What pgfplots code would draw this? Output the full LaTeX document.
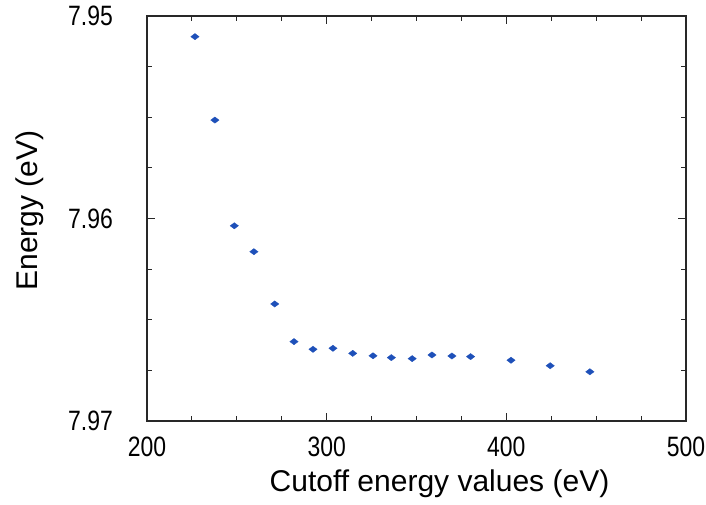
\documentclass[border=0pt]{standalone}
\usepackage{fontspec}
\setmainfont{Liberation Sans}
\newfontfamily\ticknarrow[FakeStretch=0.82]{Liberation Sans}
\usepackage{pgfplots}
\pgfplotsset{compat=1.18}
\definecolor{markblue}{RGB}{30,80,185}
\definecolor{axgray}{RGB}{40,40,40}
\begin{document}
\begin{tikzpicture}
\useasboundingbox (-147pt,-84pt) rectangle (559pt,421pt);
\begin{axis}[
  at={(0,0)}, anchor=south west,
  scale only axis, width=539pt, height=405pt,
  xmin=200, xmax=500, ymin=7.95, ymax=7.97,
  y dir=reverse,
  xtick={200,300,400,500}, xticklabels={200,300,400,500},
  ytick={7.95,7.96,7.97}, yticklabels={7.95,7.96,7.97},
  minor x tick num=3, minor y tick num=3,
  tick align=inside,
  major tick length=8pt, minor tick length=5pt,
  axis line style={line width=1.3pt, axgray},
  every tick/.style={line width=1pt, axgray},
  every minor tick/.style={line width=1pt, axgray},
  ticklabel style={font=\ticknarrow\fontsize{28}{28}\selectfont, inner sep=0pt},
  xticklabel style={anchor=north, yshift=-16pt},
  yticklabel style={anchor=east, xshift=-34pt},
  xlabel={Cutoff energy values (eV)},
  ylabel={Energy (eV)},
  label style={font=\fontsize{30}{30}\selectfont, inner sep=0pt},
  xlabel style={at={(axis description cs:0.5,0)}, anchor=north, yshift=-49pt, xshift=23pt},
  ylabel style={at={(axis description cs:-0.2171,0.5198)}, anchor=center, rotate=0},
  clip=false,
]
\addplot[only marks, mark=diamond*, mark size=4.2pt,
  mark options={rotate=90, fill=markblue, draw=markblue, line width=0.3pt}]
coordinates {
(226.7,7.95102)
(237.8,7.95514)
(248.6,7.96036)
(259.5,7.96164)
(271.1,7.96422)
(281.8,7.96608)
(292.4,7.96646)
(303.5,7.96641)
(314.5,7.96666)
(325.8,7.96678)
(336.0,7.96687)
(347.6,7.96692)
(358.6,7.96674)
(369.7,7.96679)
(380.1,7.96682)
(402.6,7.96700)
(424.4,7.96727)
(446.5,7.96757)
};
\end{axis}
\end{tikzpicture}
\end{document}
